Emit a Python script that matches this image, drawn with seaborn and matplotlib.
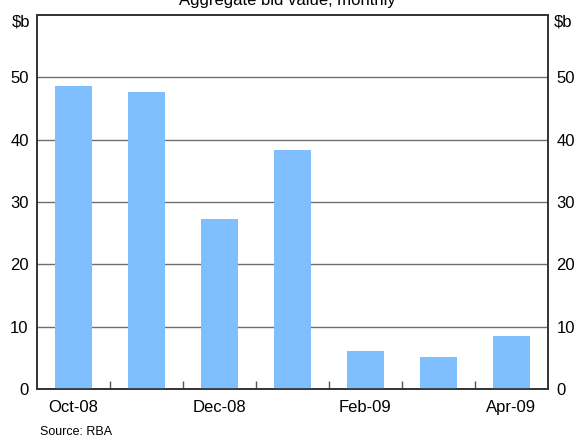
import matplotlib
matplotlib.use("Agg")
import matplotlib.pyplot as plt
import seaborn as sns
import pandas as pd

# data
months = ["Oct-08", "Nov-08", "Dec-08", "Jan-09", "Feb-09", "Mar-09", "Apr-09"]
bid_value = [48.6, 47.6, 27.2, 38.3, 6.1, 5.1, 8.5]
labelled = ["Oct-08", "Dec-08", "Feb-09", "Apr-09"]
y_ticks = [0, 10, 20, 30, 40, 50]

sns.set_style("white", {"text.color": "black", "xtick.color": "black", "ytick.color": "black"})
plt.rcParams["font.family"] = ["Liberation Sans", "DejaVu Sans"]

df = pd.DataFrame({"month": months, "value": bid_value})

fig = plt.figure(figsize=(5.74, 4.37), dpi=100)
ax = fig.add_axes([37 / 574, 1 - 389 / 437, (548 - 37) / 574, (389 - 15) / 437])

sns.barplot(data=df, x="month", y="value", color="#80bfff", width=0.5,
            saturation=1, linewidth=0, edgecolor="none", ax=ax, zorder=3)

ax.set_ylim(0, 60)
ax.set_xlim(-0.5, len(months) - 0.5)
ax.set_xlabel("")
ax.set_ylabel("")

# horizontal grid
for v in y_ticks[1:]:
    ax.axhline(v, color="#6e6e6e", lw=1.0, zorder=1)

# x labels only on every second month, small ticks between months
ax.set_xticks([months.index(m) for m in labelled])
ax.set_xticklabels(labelled, fontsize=12)
ax.set_xticks([i + 0.5 for i in range(len(months) - 1)], minor=True)
ax.tick_params(axis="x", which="major", length=0, pad=8, labelcolor="black")
ax.tick_params(axis="x", which="minor", direction="in", length=6, width=1, color="#555555", bottom=True)

ax.set_yticks(y_ticks)
ax.set_yticklabels([str(v) for v in y_ticks], fontsize=12)
ax.tick_params(axis="y", length=0, pad=6, labelcolor="black")

ax2 = ax.twinx()
ax2.set_ylim(0, 60)
ax2.set_yticks(y_ticks)
ax2.set_yticklabels([str(v) for v in y_ticks], fontsize=12)
ax2.tick_params(axis="y", length=0, pad=6, labelcolor="black")

for a in (ax, ax2):
    for s in a.spines.values():
        s.set_color("#333333")
        s.set_linewidth(1.2)
        s.set_visible(True)

fig.text(21 / 574, 1 - 22 / 437, "$b", ha="center", va="center", fontsize=12, color="black")
fig.text(563 / 574, 1 - 22 / 437, "$b", ha="center", va="center", fontsize=12, color="black")
fig.text(0.5, 1 - 1 / 437, "Aggregate bid value, monthly", ha="center", va="center", fontsize=12, color="black")
fig.text(40 / 574, 1 - 432 / 437, "Source: RBA", ha="left", va="center", fontsize=9, color="black")

fig.savefig("out.png", dpi=100)
